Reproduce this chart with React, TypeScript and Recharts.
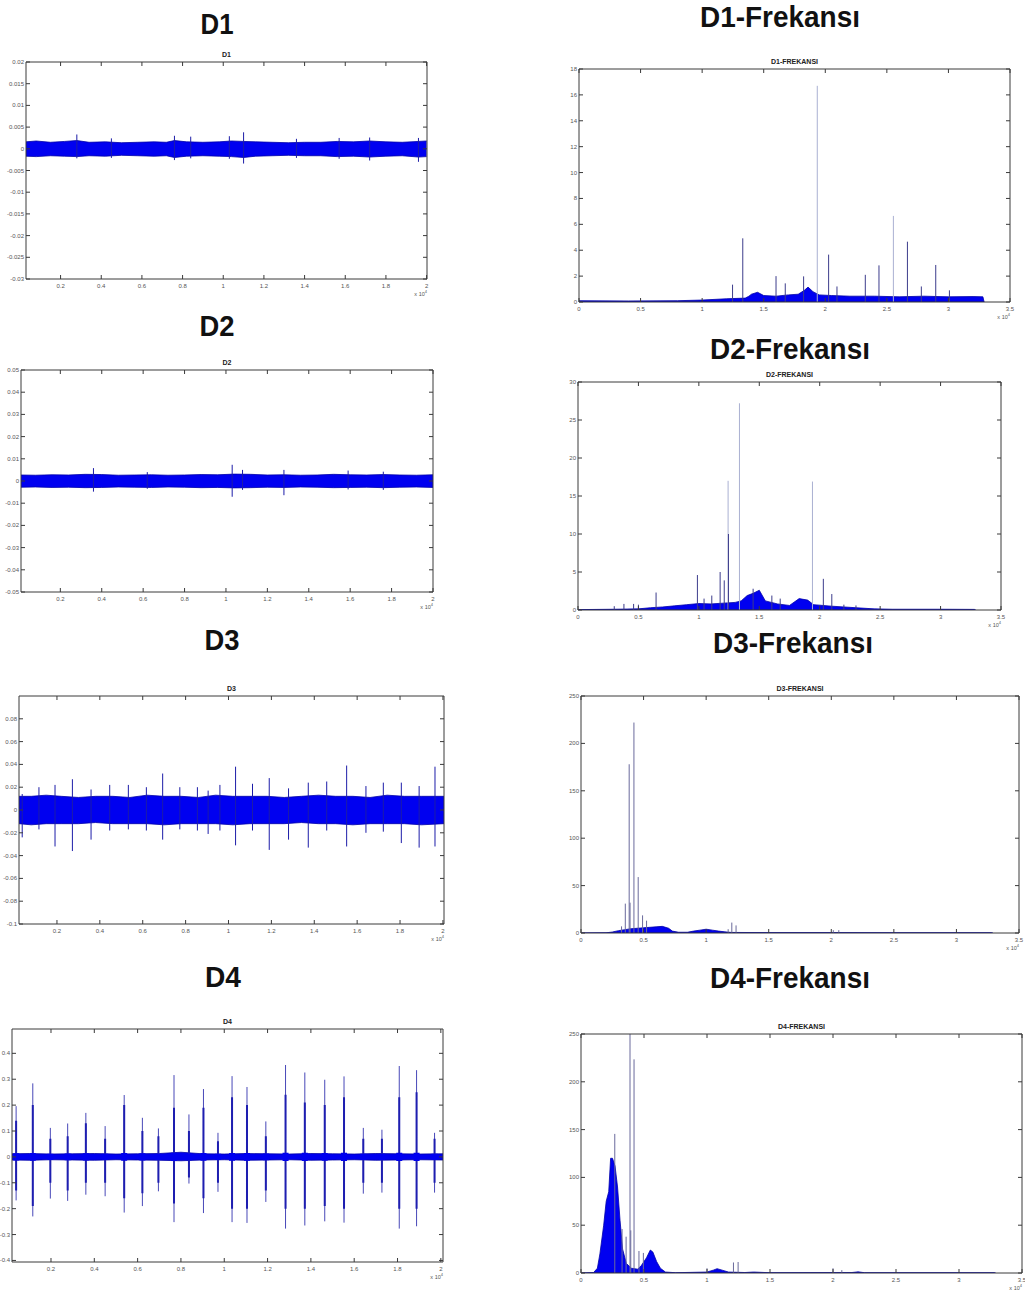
import React from "react";
import { ComposedChart, Area, Line, XAxis, YAxis } from "recharts";

// x values are in units of 10^4 (as on the original axes)

const TIME_X_TICKS = [0.2, 0.4, 0.6, 0.8, 1, 1.2, 1.4, 1.6, 1.8, 2];
const FREQ_X_TICKS = [0, 0.5, 1, 1.5, 2, 2.5, 3, 3.5];

const D1_Y_TICKS = [-0.03, -0.025, -0.02, -0.015, -0.01, -0.005, 0, 0.005, 0.01, 0.015, 0.02];
const D2_Y_TICKS = [-0.05, -0.04, -0.03, -0.02, -0.01, 0, 0.01, 0.02, 0.03, 0.04, 0.05];
const D3_Y_TICKS = [-0.1, -0.08, -0.06, -0.04, -0.02, 0, 0.02, 0.04, 0.06, 0.08];
const D4_Y_TICKS = [-0.4, -0.3, -0.2, -0.1, 0, 0.1, 0.2, 0.3, 0.4];
const D1F_Y_TICKS = [0, 2, 4, 6, 8, 10, 12, 14, 16, 18];
const D2F_Y_TICKS = [0, 5, 10, 15, 20, 25, 30];
const D34F_Y_TICKS = [0, 50, 100, 150, 200, 250];

// D1 time signal
const D1_BAND_X = [0.03, 0.08, 0.15, 0.22, 0.28, 0.34, 0.42, 0.5, 0.58, 0.66, 0.72, 0.76, 0.82, 0.9, 0.98, 1.04, 1.1, 1.16, 1.24, 1.32, 1.4, 1.48, 1.56, 1.64, 1.72, 1.8, 1.88, 1.96, 2.0];
const D1_BAND_HI = [0.0016, 0.0018, 0.0015, 0.0017, 0.0019, 0.0015, 0.0016, 0.0014, 0.0015, 0.0016, 0.0015, 0.0019, 0.0016, 0.0015, 0.0016, 0.0018, 0.0017, 0.0016, 0.0015, 0.0014, 0.0015, 0.0015, 0.0017, 0.0016, 0.0018, 0.0016, 0.0015, 0.0017, 0.0018];
const D1_BAND_LO = [-0.0017, -0.0018, -0.0016, -0.0017, -0.0018, -0.0016, -0.0017, -0.0015, -0.0016, -0.0017, -0.0016, -0.002, -0.0017, -0.0016, -0.0017, -0.0018, -0.002, -0.0017, -0.0016, -0.0015, -0.0016, -0.0016, -0.0018, -0.0017, -0.0019, -0.0017, -0.0016, -0.0019, -0.0018];
const D1_SPIKE_X = [0.28, 0.45, 0.76, 0.84, 1.03, 1.1, 1.36, 1.57, 1.72, 1.96];
const D1_SPIKE_HI = [0.0033, 0.0024, 0.003, 0.0028, 0.0029, 0.0038, 0.0023, 0.0025, 0.0026, 0.0025];
const D1_SPIKE_LO = [-0.0022, -0.0021, -0.0026, -0.0022, -0.0023, -0.0034, -0.0021, -0.0023, -0.0027, -0.003];

// D2 time signal
const D2_BAND_X = [0.01, 0.08, 0.16, 0.24, 0.32, 0.4, 0.48, 0.56, 0.64, 0.72, 0.8, 0.88, 0.96, 1.04, 1.12, 1.2, 1.28, 1.36, 1.44, 1.52, 1.6, 1.68, 1.76, 1.84, 1.92, 2.0];
const D2_BAND_HI = [0.0027, 0.0026, 0.0028, 0.0027, 0.003, 0.0029, 0.0026, 0.0027, 0.0028, 0.0026, 0.0027, 0.0029, 0.0028, 0.0031, 0.003, 0.0027, 0.0028, 0.0026, 0.0027, 0.003, 0.0028, 0.0027, 0.0029, 0.0027, 0.0026, 0.0028];
const D2_BAND_LO = [-0.0028, -0.0027, -0.0029, -0.0028, -0.003, -0.0029, -0.0027, -0.0028, -0.0029, -0.0027, -0.0028, -0.003, -0.0029, -0.0031, -0.003, -0.0028, -0.0029, -0.0027, -0.0028, -0.003, -0.0029, -0.0028, -0.003, -0.0028, -0.0027, -0.0029];
const D2_SPIKE_X = [0.36, 0.62, 1.03, 1.08, 1.28, 1.59, 1.76];
const D2_SPIKE_HI = [0.0058, 0.004, 0.0073, 0.005, 0.005, 0.0047, 0.0042];
const D2_SPIKE_LO = [-0.0048, -0.0035, -0.0071, -0.004, -0.0064, -0.0038, -0.004];

// D3 time signal
const D3_BAND_X = [0.023, 0.08, 0.15, 0.22, 0.3, 0.38, 0.46, 0.54, 0.62, 0.7, 0.78, 0.86, 0.94, 1.02, 1.1, 1.18, 1.26, 1.34, 1.42, 1.5, 1.58, 1.66, 1.74, 1.82, 1.9, 2.005];
const D3_BAND_HI = [0.012, 0.012, 0.013, 0.012, 0.011, 0.012, 0.012, 0.011, 0.013, 0.012, 0.012, 0.011, 0.013, 0.012, 0.012, 0.012, 0.011, 0.012, 0.013, 0.012, 0.012, 0.011, 0.013, 0.012, 0.012, 0.012];
const D3_BAND_LO = [-0.012, -0.013, -0.012, -0.012, -0.012, -0.011, -0.012, -0.012, -0.012, -0.013, -0.012, -0.012, -0.012, -0.013, -0.012, -0.012, -0.012, -0.011, -0.012, -0.012, -0.013, -0.012, -0.012, -0.012, -0.013, -0.012];
const D3_SPIKE_X = [0.038, 0.116, 0.191, 0.272, 0.359, 0.446, 0.533, 0.617, 0.693, 0.773, 0.855, 0.905, 0.96, 1.033, 1.112, 1.19, 1.28, 1.372, 1.458, 1.551, 1.641, 1.722, 1.806, 1.889, 1.963];
const D3_SPIKE_HI = [0.014, 0.02, 0.022, 0.027, 0.018, 0.022, 0.022, 0.02, 0.032, 0.02, 0.02, 0.017, 0.022, 0.038, 0.023, 0.028, 0.019, 0.024, 0.025, 0.039, 0.021, 0.024, 0.024, 0.021, 0.038];
const D3_SPIKE_LO = [-0.024, -0.017, -0.032, -0.036, -0.026, -0.018, -0.017, -0.018, -0.026, -0.017, -0.018, -0.021, -0.018, -0.031, -0.018, -0.035, -0.026, -0.033, -0.018, -0.032, -0.02, -0.019, -0.029, -0.033, -0.032];

// D4 time signal
const D4_BAND_X = [0.02, 0.1, 0.2, 0.3, 0.4, 0.5, 0.6, 0.7, 0.8, 0.9, 1.0, 1.1, 1.2, 1.3, 1.4, 1.5, 1.6, 1.7, 1.8, 1.9, 2.01];
const D4_BAND_HI = [0.012, 0.013, 0.011, 0.012, 0.013, 0.011, 0.012, 0.013, 0.018, 0.012, 0.011, 0.013, 0.012, 0.011, 0.013, 0.012, 0.011, 0.013, 0.012, 0.011, 0.012];
const D4_BAND_LO = [-0.012, -0.013, -0.011, -0.012, -0.013, -0.011, -0.012, -0.013, -0.015, -0.012, -0.011, -0.013, -0.012, -0.011, -0.013, -0.012, -0.011, -0.013, -0.012, -0.011, -0.012];
const D4_SPIKE_X = [0.039, 0.116, 0.197, 0.277, 0.361, 0.45, 0.538, 0.622, 0.696, 0.768, 0.837, 0.904, 0.971, 1.036, 1.105, 1.192, 1.283, 1.372, 1.464, 1.553, 1.642, 1.728, 1.808, 1.888, 1.971];
const D4_SPIKE_HI = [0.196, 0.284, 0.112, 0.129, 0.17, 0.119, 0.239, 0.151, 0.11, 0.316, 0.164, 0.262, 0.093, 0.312, 0.27, 0.137, 0.355, 0.326, 0.298, 0.311, 0.112, 0.105, 0.351, 0.335, 0.093];
const D4_SPIKE_LO = [-0.168, -0.23, -0.161, -0.17, -0.146, -0.152, -0.215, -0.19, -0.133, -0.252, -0.103, -0.217, -0.135, -0.252, -0.255, -0.174, -0.277, -0.265, -0.249, -0.254, -0.142, -0.138, -0.277, -0.268, -0.138];
// thicker inner part of each burst
const D4_MID_HI = [0.14, 0.2, 0.07, 0.08, 0.13, 0.07, 0.2, 0.1, 0.08, 0.19, 0.1, 0.19, 0.06, 0.23, 0.2, 0.08, 0.24, 0.21, 0.2, 0.23, 0.07, 0.07, 0.23, 0.25, 0.07];
const D4_MID_LO = [-0.13, -0.19, -0.1, -0.13, -0.1, -0.1, -0.16, -0.14, -0.1, -0.18, -0.08, -0.16, -0.1, -0.2, -0.2, -0.13, -0.2, -0.2, -0.19, -0.2, -0.1, -0.1, -0.2, -0.2, -0.1];
const D4_BLOB_HI = [0.014, 0.015, 0.012, 0.013, 0.014, 0.012, 0.015, 0.014, 0.012, 0.016, 0.013, 0.015, 0.012, 0.015, 0.015, 0.013, 0.016, 0.016, 0.015, 0.016, 0.012, 0.012, 0.016, 0.016, 0.012];
const D4_BLOB_LO = [-0.014, -0.015, -0.012, -0.013, -0.014, -0.012, -0.015, -0.014, -0.012, -0.016, -0.013, -0.015, -0.012, -0.015, -0.015, -0.013, -0.016, -0.016, -0.015, -0.016, -0.012, -0.012, -0.016, -0.016, -0.012];

// D1 spectrum
const D1F_BAND_X = [0, 0.4, 0.8, 1.0, 1.2, 1.35, 1.38, 1.4, 1.45, 1.5, 1.6, 1.7, 1.78, 1.83, 1.86, 1.9, 1.95, 2.05, 2.2, 2.4, 2.6, 2.8, 3.0, 3.2, 3.28, 3.29];
const D1F_BAND_HI = [0.1, 0.08, 0.1, 0.15, 0.25, 0.3, 0.45, 0.6, 0.75, 0.5, 0.45, 0.55, 0.6, 0.9, 1.15, 0.8, 0.55, 0.5, 0.45, 0.45, 0.4, 0.45, 0.4, 0.42, 0.4, 0];
const D1F_DARK_X = [1.247, 1.33, 1.6, 1.675, 1.824, 2.027, 2.095, 2.325, 2.436, 2.667, 2.78, 2.897, 3.008];
const D1F_DARK_HI = [1.34, 4.92, 2.0, 1.44, 1.98, 3.66, 1.2, 2.1, 2.83, 4.66, 1.2, 2.86, 0.9];
const D1F_LIGHT_X = [1.935, 2.553];
const D1F_LIGHT_HI = [16.7, 6.65];

// D2 spectrum
const D2F_BAND_X = [0, 0.3, 0.5, 0.6, 0.7, 0.8, 0.9, 1.0, 1.1, 1.2, 1.3, 1.35, 1.4, 1.45, 1.5, 1.55, 1.65, 1.75, 1.83, 1.9, 1.95, 2.1, 2.3, 2.45, 2.6, 3.0, 3.28, 3.29];
const D2F_BAND_HI = [0.05, 0.1, 0.15, 0.3, 0.4, 0.55, 0.7, 0.85, 0.8, 0.9, 1.0, 1.2, 1.9, 2.2, 2.6, 1.2, 0.8, 0.6, 1.5, 1.3, 0.7, 0.5, 0.3, 0.15, 0.1, 0.1, 0.08, 0];
const D2F_DARK_X = [0.3, 0.38, 0.46, 0.5, 0.646, 0.988, 1.043, 1.107, 1.176, 1.21, 1.245, 1.449, 1.604, 1.673, 2.03, 2.1, 2.2, 2.3];
const D2F_DARK_HI = [0.5, 0.8, 0.8, 0.7, 2.3, 4.6, 1.5, 1.9, 5.0, 3.9, 10, 2.8, 1.9, 1.5, 4.1, 2.1, 0.7, 0.6];
const D2F_LIGHT_X = [1.242, 1.336, 1.94];
const D2F_LIGHT_HI = [17.0, 27.2, 16.9];

// D3 spectrum
const D3F_BAND_X = [0, 0.2, 0.25, 0.3, 0.35, 0.4, 0.5, 0.55, 0.6, 0.65, 0.7, 0.73, 0.78, 0.85, 0.9, 0.95, 1.0, 1.05, 1.1, 1.15, 1.2, 1.5, 2.0, 2.5, 3.0, 3.28, 3.29];
const D3F_BAND_HI = [0, 0.2, 1, 2.5, 3.5, 4.5, 5.5, 6, 6.5, 7, 5, 2, 0.8, 0.8, 2, 3, 4, 3, 2, 1.2, 0.6, 0.4, 0.4, 0.3, 0.3, 0.3, 0];
const D3F_SPIKE_X = [0.324, 0.354, 0.385, 0.392, 0.423, 0.457, 0.492, 0.524, 1.176, 1.205, 1.239, 2.016, 2.06];
const D3F_SPIKE_HI = [7, 31, 178, 32, 222, 59, 18.6, 13, 4, 11, 8, 3, 3];

// D4 spectrum
const D4F_BAND_X = [0, 0.1, 0.13, 0.15, 0.18, 0.2, 0.22, 0.235, 0.25, 0.27, 0.29, 0.31, 0.33, 0.36, 0.4, 0.45, 0.48, 0.52, 0.55, 0.57, 0.6, 0.63, 0.67, 0.75, 1.0, 1.05, 1.08, 1.12, 1.17, 1.3, 1.37, 1.5, 2.15, 2.2, 2.25, 3.28, 3.29];
const D4F_BAND_HI = [0, 0.5, 5, 20, 50, 75, 85, 120, 120, 112, 90, 55, 25, 10, 5, 4, 8, 16, 24, 22, 12, 5, 1, 0.3, 1, 3, 4.5, 3, 1, 0.5, 1, 0.3, 0.5, 1.2, 0.3, 0.3, 0];
const D4F_SPIKE_X = [0.268, 0.326, 0.358, 0.389, 0.395, 0.421, 0.46, 0.495, 1.0, 1.21, 1.247, 2.0, 2.07];
const D4F_SPIKE_HI = [145.5, 46, 38, 250, 44.6, 223.5, 23, 21, 5, 11, 11.5, 5, 3];

type BandRow = { x: number; range: [number, number] };
type SpikeRow = { x: number; y: number | null };

function bandRows(xs: number[], hi: number[], lo?: number[]): BandRow[] {
  return xs.map((x, i) => ({ x, range: [lo ? lo[i] : 0, hi[i]] }));
}

function spikeRows(xs: number[], hi: number[], lo?: number[]): SpikeRow[] {
  const rows: SpikeRow[] = [];
  xs.forEach((x, i) => {
    rows.push({ x, y: lo ? lo[i] : 0 });
    rows.push({ x, y: hi[i] });
    rows.push({ x, y: null });
  });
  return rows;
}

const FRAME = "#3a3a3a";
const LABEL = "#555";
const FONT = "'Liberation Sans', Arial, sans-serif";
const PAD = 30;
const AX = 1; // axis thickness reserved in the layout
const TICK = 4;

const fmt = (v: number) => String(parseFloat(v.toFixed(4)));

const BottomTick = (p: any) => (
  <g>
    <line x1={p.x} y1={p.y} x2={p.x} y2={p.y - TICK} stroke={FRAME} />
    <text x={p.x} y={p.y + 9} textAnchor="middle" fontSize={6} fill={LABEL} fontFamily={FONT}>
      {fmt(p.payload.value)}
    </text>
  </g>
);
const TopTick = (p: any) => <line x1={p.x} y1={p.y} x2={p.x} y2={p.y + TICK} stroke={FRAME} />;
const LeftTick = (p: any) => (
  <g>
    <line x1={p.x} y1={p.y} x2={p.x + TICK} y2={p.y} stroke={FRAME} />
    <text x={p.x - 2} y={p.y + 2} textAnchor="end" fontSize={6} fill={LABEL} fontFamily={FONT}>
      {fmt(p.payload.value)}
    </text>
  </g>
);
const RightTick = (p: any) => <line x1={p.x} y1={p.y} x2={p.x - TICK} y2={p.y} stroke={FRAME} />;

type Spikes = { rows: SpikeRow[]; color: string; width: number };

type PanelProps = {
  box: [number, number, number, number];
  xDomain: [number, number];
  yDomain: [number, number];
  xTicks: number[];
  yTicks: number[];
  band: BandRow[];
  spikes: Spikes[];
};

function Panel({ box, xDomain, yDomain, xTicks, yTicks, band, spikes }: PanelProps) {
  const [l, t, r, b] = box;
  const w = r - l;
  const h = b - t;
  const m = PAD - AX;
  return (
    <div style={{ position: "absolute", left: l - PAD, top: t - PAD }}>
      <ComposedChart width={w + 2 * PAD} height={h + 2 * PAD} margin={{ top: m, right: m, bottom: m, left: m }}>
        <XAxis dataKey="x" type="number" domain={xDomain} ticks={xTicks} interval={0} allowDataOverflow height={AX}
          tickSize={0} tickMargin={0} tickLine={false} axisLine={{ stroke: FRAME }} tick={BottomTick} />
        <XAxis xAxisId="top" orientation="top" dataKey="x" type="number" domain={xDomain} ticks={xTicks} interval={0}
          allowDataOverflow height={AX} tickSize={0} tickMargin={0} tickLine={false} axisLine={{ stroke: FRAME }} tick={TopTick} />
        <YAxis type="number" domain={yDomain} ticks={yTicks} interval={0} allowDataOverflow width={AX}
          tickSize={0} tickMargin={0} tickLine={false} axisLine={{ stroke: FRAME }} tick={LeftTick} />
        <YAxis yAxisId="right" orientation="right" type="number" domain={yDomain} ticks={yTicks} interval={0}
          allowDataOverflow width={AX} tickSize={0} tickMargin={0} tickLine={false} axisLine={{ stroke: FRAME }} tick={RightTick} />
        <Area data={band} dataKey="range" type="linear" fill="#0000f0" fillOpacity={1} stroke="#0000a8"
          strokeWidth={0.8} isAnimationActive={false} dot={false} activeDot={false} />
        {spikes.map((s, i) => (
          <Line key={i} data={s.rows} dataKey="y" type="linear" stroke={s.color} strokeWidth={s.width}
            dot={false} activeDot={false} connectNulls={false} isAnimationActive={false} />
        ))}
      </ComposedChart>
    </div>
  );
}

const TIME_SPIKE = "#1c1ca8";
const DARK_SPIKE = "#3c3c8c";
const LIGHT_SPIKE = "#aab0d2";

const PANELS: (PanelProps & { title: string; big: string; bigX: number; bigY: number; bigW: number })[] = [
  {
    title: "D1", big: "D1", bigX: 217, bigY: 34, bigW: 33,
    box: [26, 62, 427, 279], xDomain: [0.03, 2.002], yDomain: [-0.03, 0.02], xTicks: TIME_X_TICKS, yTicks: D1_Y_TICKS,
    band: bandRows(D1_BAND_X, D1_BAND_HI, D1_BAND_LO),
    spikes: [{ rows: spikeRows(D1_SPIKE_X, D1_SPIKE_HI, D1_SPIKE_LO), color: TIME_SPIKE, width: 1 }],
  },
  {
    title: "D1-FREKANSI", big: "D1-Frekansı", bigX: 780, bigY: 27, bigW: 160,
    box: [579, 69, 1010, 302], xDomain: [0, 3.5], yDomain: [0, 18], xTicks: FREQ_X_TICKS, yTicks: D1F_Y_TICKS,
    band: bandRows(D1F_BAND_X, D1F_BAND_HI),
    spikes: [
      { rows: spikeRows(D1F_LIGHT_X, D1F_LIGHT_HI), color: LIGHT_SPIKE, width: 1 },
      { rows: spikeRows(D1F_DARK_X, D1F_DARK_HI), color: DARK_SPIKE, width: 1 },
    ],
  },
  {
    title: "D2", big: "D2", bigX: 217, bigY: 336, bigW: 35,
    box: [21, 370, 433, 592], xDomain: [0.01, 2.0], yDomain: [-0.05, 0.05], xTicks: TIME_X_TICKS, yTicks: D2_Y_TICKS,
    band: bandRows(D2_BAND_X, D2_BAND_HI, D2_BAND_LO),
    spikes: [{ rows: spikeRows(D2_SPIKE_X, D2_SPIKE_HI, D2_SPIKE_LO), color: TIME_SPIKE, width: 1 }],
  },
  {
    title: "D2-FREKANSI", big: "D2-Frekansı", bigX: 790, bigY: 359, bigW: 160,
    box: [578, 382, 1001, 610], xDomain: [0, 3.5], yDomain: [0, 30], xTicks: FREQ_X_TICKS, yTicks: D2F_Y_TICKS,
    band: bandRows(D2F_BAND_X, D2F_BAND_HI),
    spikes: [
      { rows: spikeRows(D2F_LIGHT_X, D2F_LIGHT_HI), color: LIGHT_SPIKE, width: 1 },
      { rows: spikeRows(D2F_DARK_X, D2F_DARK_HI), color: DARK_SPIKE, width: 1 },
    ],
  },
  {
    title: "D3", big: "D3", bigX: 222, bigY: 650, bigW: 35,
    box: [19, 696, 444, 924], xDomain: [0.023, 2.005], yDomain: [-0.1, 0.1], xTicks: TIME_X_TICKS, yTicks: D3_Y_TICKS,
    band: bandRows(D3_BAND_X, D3_BAND_HI, D3_BAND_LO),
    spikes: [{ rows: spikeRows(D3_SPIKE_X, D3_SPIKE_HI, D3_SPIKE_LO), color: TIME_SPIKE, width: 1 }],
  },
  {
    title: "D3-FREKANSI", big: "D3-Frekansı", bigX: 793, bigY: 653, bigW: 160,
    box: [581, 696, 1019, 933], xDomain: [0, 3.5], yDomain: [0, 250], xTicks: FREQ_X_TICKS, yTicks: D34F_Y_TICKS,
    band: bandRows(D3F_BAND_X, D3F_BAND_HI),
    spikes: [{ rows: spikeRows(D3F_SPIKE_X, D3F_SPIKE_HI), color: "#6a6a9c", width: 1 }],
  },
  {
    title: "D4", big: "D4", bigX: 223, bigY: 987, bigW: 36,
    box: [12, 1029, 443, 1262], xDomain: [0.02, 2.01], yDomain: [-0.406, 0.494], xTicks: TIME_X_TICKS, yTicks: D4_Y_TICKS,
    band: bandRows(D4_BAND_X, D4_BAND_HI, D4_BAND_LO),
    spikes: [
      { rows: spikeRows(D4_SPIKE_X, D4_SPIKE_HI, D4_SPIKE_LO), color: "#4848b8", width: 1 },
      { rows: spikeRows(D4_SPIKE_X, D4_MID_HI, D4_MID_LO), color: "#1e1eb0", width: 2 },
      { rows: spikeRows(D4_SPIKE_X, D4_BLOB_HI, D4_BLOB_LO), color: "#0000f0", width: 6 },
    ],
  },
  {
    title: "D4-FREKANSI", big: "D4-Frekansı", bigX: 790, bigY: 988, bigW: 160,
    box: [581, 1034, 1022, 1273], xDomain: [0, 3.5], yDomain: [0, 250], xTicks: FREQ_X_TICKS, yTicks: D34F_Y_TICKS,
    band: bandRows(D4F_BAND_X, D4F_BAND_HI),
    spikes: [{ rows: spikeRows(D4F_SPIKE_X, D4F_SPIKE_HI), color: "#6a6a9c", width: 1 }],
  },
];

export default function App() {
  return (
    <div style={{ position: "absolute", left: 0, top: 0, width: 1025, height: 1292, background: "#fff", overflow: "hidden" }}>
      {PANELS.map((p, i) => (
        <Panel key={i} {...p} />
      ))}
      <svg width={1025} height={1292} style={{ position: "absolute", left: 0, top: 0, pointerEvents: "none" }}>
        {PANELS.map((p, i) => {
          const [l, t, r, b] = p.box;
          return (
            <g key={i} fontFamily={FONT}>
              <text x={p.bigX} y={p.bigY} textAnchor="middle" fontSize={29} fontWeight="bold" fill="#111"
                textLength={p.bigW} lengthAdjust="spacingAndGlyphs">
                {p.big}
              </text>
              <text x={(l + r) / 2} y={t - 5} textAnchor="middle" fontSize={7} fontWeight="bold" fill="#222">
                {p.title}
              </text>
              <text x={r} y={b + 17} textAnchor="end" fontSize={5.5} fill={LABEL}>
                x 10<tspan dy={-3} fontSize={4}>4</tspan>
              </text>
            </g>
          );
        })}
      </svg>
    </div>
  );
}
